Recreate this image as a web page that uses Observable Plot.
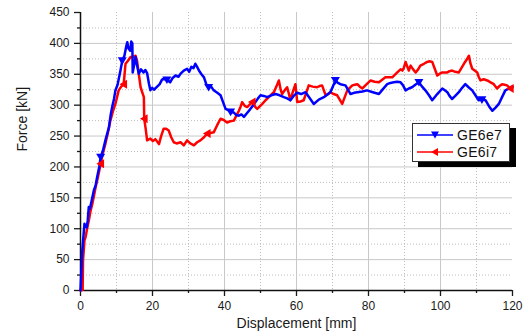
<!DOCTYPE html>
<html>
<head>
<meta charset="utf-8">
<script src="https://cdn.jsdelivr.net/npm/d3@7"></script>
<script src="https://cdn.jsdelivr.net/npm/@observablehq/plot@0.6"></script>
<style>
  html, body { margin: 0; padding: 0; background: #fff; }
  #wrap { position: relative; width: 526px; height: 336px; font-family: "Liberation Sans", Arial, sans-serif; }
  #legend { position: absolute; left: 412px; top: 123px; width: 98px; height: 39px; background: #fff;
    border: 1px solid #333; box-shadow: 6px 5px 0 #000; box-sizing: border-box; }
  .row { position: absolute; left: 4px; height: 17px; display: flex; align-items: center; font-size: 14px; color: #111; letter-spacing: 0.3px; }
  .row svg { margin-right: 4px; }
</style>
</head>
<body>
<div id="wrap"></div>
<script>
// ---- data ----
const seriesNames = ["GE6e7", "GE6i7"];
const seriesColors = ["#0000ff", "#ff0000"];

const blueDisp = [0,0.3,0.5,0.9,1.1,1.7,2.0,2.3,2.6,3.2,3.7,4.2,4.6,5.2,5.6,6.3,7.0,7.9,8.4,8.8,9.3,9.7,10.3,11.1,11.6,12.2,12.7,13.0,13.3,13.8,14.1,14.4,14.5,14.9,15.3,15.7,16.2,16.8,17.5,18.0,18.5,19.0,19.4,19.9,20.4,21.3,22.0,22.6,23.1,24.0,24.9,25.6,26.4,27.2,27.8,28.7,29.6,30.2,30.8,31.4,31.9,32.4,32.9,33.6,34.3,35.0,35.6,36.3,37.0,38.0,38.9,39.6,40.3,41.0,41.7,42.6,43.3,44.0,44.7,45.4,46.1,46.8,47.7,48.6,49.3,50.0,50.9,51.9,53.0,54.2,55.3,56.5,57.4,58.3,59.2,60.2,61.3,62.5,63.6,64.8,66.2,67.6,68.5,69.4,70.1,70.8,71.5,72.2,73.6,74.3,75.0,76.0,76.9,78.3,79.6,81.2,82.9,84.0,85.2,86.1,87.0,88.0,88.9,89.6,90.3,91.2,92.1,93.0,94.0,94.9,95.8,96.8,97.7,99.1,100.5,101.2,101.9,102.5,103.2,104.1,105.1,106.0,106.9,107.8,108.8,109.7,110.6,111.5,112.5,113.5,114.4,115.3,116.2,117.1,118.0,118.7,119.4,120];
const blueForce = [0,38,65,94,108,102,113,135,132,148,162,170,183,200,216,228,245,264,285,297,310,324,333,356,372,380,395,402,392,388,403,400,353,365,378,365,351,358,353,357,352,335,324,328,325,330,334,341,343,341,337,344,348,346,351,356,359,354,362,360,367,362,356,350,345,333,329,330,324,320,316,305,294,292,289,288,284,283,285,281,286,291,298,305,311,316,315,313,316,318,316,313,311,308,315,320,318,321,312,302,309,313,317,321,330,340,336,334,332,325,318,320,321,322,324,321,318,326,334,336,337,338,337,332,324,327,329,333,337,330,324,316,308,318,327,324,321,315,310,315,321,328,334,329,324,316,308,309,308,298,291,296,302,313,324,326,327,330];
const blueMarkerDisp = [5.6, 11.6, 23.6, 35.6, 41.7, 70.8, 94.0, 111.5];

const redDisp = [0,0.3,0.6,0.7,1.1,1.4,1.9,2.3,2.8,3.2,3.7,4.2,4.9,5.6,6.2,6.9,7.6,8.3,9.0,9.7,10.6,11.3,12.0,12.5,13.2,13.9,14.6,15.3,15.7,16.2,16.7,17.2,17.6,17.7,18.1,18.5,19.4,20.1,20.8,21.3,21.8,22.4,23.1,23.8,24.5,25.2,25.9,26.7,27.8,28.7,29.6,30.5,31.5,32.4,33.3,34.3,35.2,36.1,37.0,38.0,38.9,39.8,40.7,41.6,42.6,43.3,44.0,44.5,44.9,45.6,46.3,47.0,47.7,48.4,49.1,49.8,50.5,51.4,52.3,53.0,53.7,54.4,55.1,55.6,56.0,56.7,57.4,57.9,58.3,59.0,59.7,60.2,61.1,62.0,62.7,63.4,64.5,65.7,66.4,67.1,67.6,68.1,68.8,69.4,70.3,71.3,72.0,72.7,73.4,74.1,74.8,75.5,76.2,76.9,77.6,78.3,79.5,80.6,81.7,82.9,83.8,84.7,85.6,86.6,87.3,88.0,88.9,89.4,89.8,90.3,90.8,91.2,91.7,92.4,93.1,93.8,94.4,95.4,96.3,97.0,97.7,98.4,99.1,99.8,100.5,101.2,101.9,102.5,103.2,104.1,105.1,105.8,106.5,107.2,107.9,108.3,108.8,109.5,110.2,110.6,111.1,112.0,113.0,113.9,114.8,115.3,115.7,116.4,117.1,117.8,118.5,119.0,119.4,120];
const redForce = [0,5,1,49,81,86,102,113,129,138,152,167,185,205,222,237,255,275,290,302,324,330,334,367,372,378,378,380,372,350,329,320,313,278,262,243,246,242,245,241,237,250,262,262,259,248,240,238,240,235,243,238,235,240,243,248,254,255,256,268,278,276,272,274,275,283,291,298,305,299,297,301,305,298,294,298,302,308,313,317,321,330,340,325,318,324,329,318,308,322,334,305,306,308,320,332,330,329,331,332,324,316,318,321,318,316,309,302,313,324,328,332,333,334,330,327,334,340,338,337,341,345,345,345,349,353,358,356,360,370,362,356,364,358,353,358,364,367,370,371,370,359,348,351,353,353,353,355,356,354,353,360,367,373,380,368,359,356,353,346,340,342,340,337,334,330,327,331,334,333,332,329,327,329];
const redMarkerDisp = [5.6, 12.0, 17.7, 35.2, 47.7, 119.4];

const xMajorTicks = [0, 20, 40, 60, 80, 100, 120];
const xMinorTicks = [10, 30, 50, 70, 90, 110];
const yMajorTicks = [0, 50, 100, 150, 200, 250, 300, 350, 400, 450];
const yMinorTicks = [25, 75, 125, 175, 225, 275, 325, 375, 425];
const xTitle = "Displacement [mm]";
const yTitle = "Force [kN]";

// ---- build tables ----
const blue = blueDisp.map((d, i) => ({d, f: blueForce[i], s: seriesNames[0]}));
const red = redDisp.map((d, i) => ({d, f: redForce[i], s: seriesNames[1]}));
const nearest = (arr, xs) => xs.map(x => arr.reduce((a, b) => Math.abs(b.d - x) < Math.abs(a.d - x) ? b : a));
const blueMarks = nearest(blue, blueMarkerDisp);
const redMarks = nearest(red, redMarkerDisp);

const triDown = { draw(ctx, size) { const r = Math.sqrt(size / Math.PI); ctx.moveTo(-r, -r * 0.75); ctx.lineTo(r, -r * 0.75); ctx.lineTo(0, r * 0.95); ctx.closePath(); } };
const triLeft = { draw(ctx, size) { const r = Math.sqrt(size / Math.PI); ctx.moveTo(-r * 0.95, 0); ctx.lineTo(r * 0.75, -r); ctx.lineTo(r * 0.75, r); ctx.closePath(); } };

const gridMajor = {stroke: "#c8c8c8", strokeOpacity: 1, strokeWidth: 1};
const gridMinor = {stroke: "#bdbdbd", strokeOpacity: 1, strokeWidth: 1, strokeDasharray: "1,2"};

const chart = Plot.plot({
  width: 526,
  height: 336,
  marginLeft: 80,
  marginRight: 14,
  marginTop: 12,
  marginBottom: 46,
  style: {fontFamily: "'Liberation Sans', Arial, sans-serif", fontSize: "12px", color: "#1a1a1a", background: "#fff"},
  x: {domain: [0, 120]},
  y: {domain: [0, 450]},
  marks: [
    Plot.gridX(xMinorTicks, gridMinor),
    Plot.gridY(yMinorTicks, gridMinor),
    Plot.gridX(xMajorTicks.slice(1, -1), gridMajor),
    Plot.gridY(yMajorTicks.slice(1, -1), gridMajor),
    Plot.axisX(xMajorTicks, {tickSize: 6, tickPadding: 5, label: null, strokeWidth: 1.3}),
    Plot.axisX(xMinorTicks, {tickSize: 3, text: null, label: null, strokeWidth: 1.3}),
    Plot.axisY(yMajorTicks, {tickSize: 6, tickPadding: 5, label: null, strokeWidth: 1.3}),
    Plot.axisY(yMinorTicks, {tickSize: 3, text: null, label: null, strokeWidth: 1.3}),
    Plot.ruleY([0], {stroke: "#111", strokeWidth: 1.5}),
    Plot.ruleX([0], {stroke: "#111", strokeWidth: 1.5}),
    Plot.line(red, {x: "d", y: "f", stroke: seriesColors[1], strokeWidth: 2.5, strokeLinejoin: "round"}),
    Plot.line(blue, {x: "d", y: "f", stroke: seriesColors[0], strokeWidth: 2.5, strokeLinejoin: "round"}),
    Plot.dot(blueMarks, {x: "d", y: "f", r: 4.5, symbol: triDown, fill: seriesColors[0], stroke: "none"}),
    Plot.dot(redMarks, {x: "d", y: "f", r: 4.5, symbol: triLeft, fill: seriesColors[1], stroke: "none"}),
    Plot.text([xTitle], {frameAnchor: "bottom", dy: 37, fontSize: 14, fill: "#1a1a1a", style: "letter-spacing:0.8px"}),
    Plot.text([yTitle], {frameAnchor: "left", dx: -58, rotate: -90, fontSize: 14, fill: "#1a1a1a"})
  ]
});

const wrap = document.getElementById("wrap");
wrap.appendChild(chart);

// legend
const legend = document.createElement("div");
legend.id = "legend";
const markerPaths = [
  '<path d="M4,-3.5 L12,-3.5 L8,3.5 Z" />',
  '<path d="M4,0 L11,-4 L11,4 Z" />'
];
seriesNames.forEach((name, i) => {
  const row = document.createElement("div");
  row.className = "row";
  row.style.top = (i === 0 ? 2 : 19) + "px";
  row.innerHTML = `<svg width="36" height="12" viewBox="0 -6 36 12"><line x1="0" y1="0" x2="36" y2="0" stroke="${seriesColors[i]}" stroke-width="1.5"/><g transform="translate(10,0)" fill="${seriesColors[i]}">${markerPaths[i]}</g></svg><span>${name}</span>`;
  legend.appendChild(row);
});
wrap.appendChild(legend);
</script>
</body>
</html>
